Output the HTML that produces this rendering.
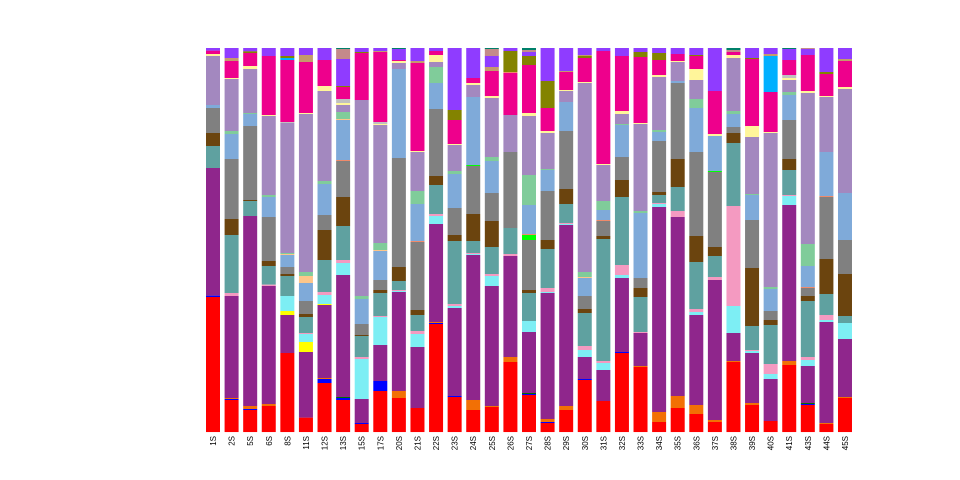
<!DOCTYPE html>
<html><head><meta charset="utf-8"><style>
html,body{margin:0;padding:0;background:#fff;}
svg{display:block;}
text{font-family:"Liberation Sans",sans-serif;font-size:8px;fill:#000;}
</style></head><body>
<svg id="s" width="960" height="480" xmlns="http://www.w3.org/2000/svg"></svg>
<script>
var C={r:"#ff0000",p:"#8f268c",b:"#0000ff",o:"#f27005",t:"#5fa1a0",br:"#6b440e",g:"#808080",lb:"#7faad9",lv:"#a388bf",m:"#ee008c",v:"#8f3cff",y:"#ffff00",c:"#7deef4",lp:"#f49ac1",mi:"#80cc9a",ol:"#838300",tn:"#c49a6c",pe:"#fdc68a",ly:"#fff59a",sa:"#f08a6a",ds:"#00b0ff",li:"#00ff00",rb:"#c48a8a",si:"#c0c0c0",dt:"#00806a",dg:"#007000"};
var D=[
"v12 m20 ly30 lv36 lb183 g192 br267 t306 p372 b755 r759",
"v12 tn42 m51 ly102 lv105 mi261 lb270 g345 br525 t573 lp747 p756 o1062 b1065 r1068",
"v12 ol22 m27 ly66 lv75 mi207 lb210 g246 br468 t471 p516 o1086 b1095 r1098",
"v12 m36 ly213 lv216 mi453 lb459 g519 br651 t666 lp722 p726 o1080 r1086",
"v12 ol36 ds42 m48 si234 lv237 mi627 pe630 lb633 g669 br690 t696 c756 y801 p813 r927",
"v12 tn33 m54 ly207 lv210 mi684 pe696 lb717 g771 br810 t819 lp867 c870 y894 p924 r1121",
"v12 m48 ly126 lv141 mi411 lb420 g513 br558 t648 lp744 c753 y780 p783 o1002 b1005 r1017",
"dt12 rb15 v45 ol126 m129 si165 ly177 lv183 mi204 pe225 lb228 sa348 g351 br459 t546 lp648 c657 p693 dg1059 b1062 r1068",
"v12 ol24 m27 lv168 mi756 lb765 g840 br873 t876 lp939 c945 p1065 b1137 r1140",
"v12 tn21 m24 si234 ly240 lv243 mi597 pe618 lb621 g708 br738 t747 lp816 c819 p903 b1011 r1041",
"dt12 v15 m48 ly51 lv57 lb75 g342 br669 t711 lp738 c741 p744 o1041 r1062",
"v12 tn51 m57 ly321 lv324 mi441 lb480 sa591 g594 br798 t813 lp861 c870 p909 r1092",
"v12 m21 ly33 lv54 mi69 lb117 g195 br396 t423 lp510 c516 p540 o834 b837 r840",
"v12 ol198 m228 ly300 lv303 mi381 lb390 g492 br573 t591 lp780 c786 p792 b1056 r1059",
"v12 m102 ly117 lv123 lb159 li363 g366 br510 t591 lp627 c630 p633 o1068 r1098",
"dt12 rb15 v36 tn69 m81 ly156 lv162 mi339 lb351 g447 br531 t609 lp690 c696 p726 o1086 r1089",
"v12 ol21 sa84 m87 lv213 g324 t552 lp630 p636 o939 r954",
"dt12 rb18 v24 ol36 m63 ly207 lv216 mi393 lb483 sa570 li573 g588 br738 t747 c831 p864 dg1047 b1050 r1053",
"v12 ol111 m192 ly261 lv267 mi375 lb378 g441 br588 t615 lp732 c744 p747 o1125 b1134 r1137",
"v12 tn81 m84 ly138 lv141 lb174 g261 br435 t480 lp537 c540 p543 o1086 r1098",
"v12 tn33 ol36 m42 ly114 lv117 mi684 pe699 lb702 g756 br795 t807 lp906 c918 p939 b1005 r1008",
"v12 m21 ly360 lv363 mi471 lb498 sa528 g531 br576 t585 lp951 c957 p978 r1071",
"v12 m36 ly201 lv210 mi240 lb243 g339 br408 t459 lp663 c693 p702 b924 r927",
"v12 ol24 m39 ly237 lv240 mi501 lb507 g702 br732 t759 lp864 p867 o966 r969",
"v12 ol27 m48 ly93 lv99 mi258 lb264 g291 br444 t453 lp477 c480 p489 o1104 r1134",
"v12 m30 ly51 lv54 lb111 g117 br345 t429 lp501 p519 o1056 r1092",
"v12 ol33 m36 ly75 lv108 mi165 lb192 g324 br576 t654 lp795 c804 p813 o1083 r1110",
"v12 m141 ly270 lb276 li381 g384 br609 t636 lp699 p708 o1128 r1134",
"dt12 rb18 m24 ly33 lv42 mi201 lb210 g249 br267 t297 lp486 c786 p867 o951 r954",
"v12 ol42 m45 ly246 lv279 mi450 lb453 g528 br672 t846 lp918 c921 p927 o1077 r1083",
"v12 tn30 ds36 m144 ly264 lv267 mi729 lb735 g801 br828 t843 lp960 c990 p1005 r1131",
"dt12 v15 m48 si93 ly102 lv108 mi144 lb153 g228 br345 t378 lp453 c456 p483 o951 r963",
"rb12 v15 m33 ly141 lv147 mi600 lb666 sa729 g732 br756 t771 lp939 c948 p966 dg1077 b1080 r1083",
"v12 ol84 m90 ly156 lv159 lb324 sa456 g459 br645 t750 lp813 c828 p834 o1137 r1140",
"v12 tn45 m51 ly129 lv135 lb447 g588 br690 t816 c837 p885 o1059 r1062"];
var L=["1S","2S","5S","6S","8S","11S","12S","13S","15S","17S","20S","21S","22S","23S","24S","25S","26S","27S","28S","29S","30S","31S","32S","33S","34S","35S","36S","37S","38S","39S","40S","41S","43S","44S","45S"];
var h="";
D.forEach(function(s,i){
  var x=206+i*18.588;
  var seg=s.split(" ").map(function(t){var m=t.match(/^([a-z]+)(\d+)$/);return [m[1],+m[2]];});
  seg.forEach(function(q,j){
    var z0=q[1], z1=j<seg.length-1?seg[j+1][1]:1164;
    var y0=44+z0/3, y1=44+z1/3;
    h+='<rect x="'+x.toFixed(2)+'" y="'+y0.toFixed(2)+'" width="14" height="'+(y1-y0+0.05).toFixed(2)+'" fill="'+C[q[0]]+'"/>';
  });
  var cx=x+7+3;
  h+='<text transform="translate('+cx.toFixed(2)+',436) rotate(-90)" text-anchor="end">'+L[i]+'</text>';
});
document.getElementById("s").innerHTML=h;
</script>
</body></html>
